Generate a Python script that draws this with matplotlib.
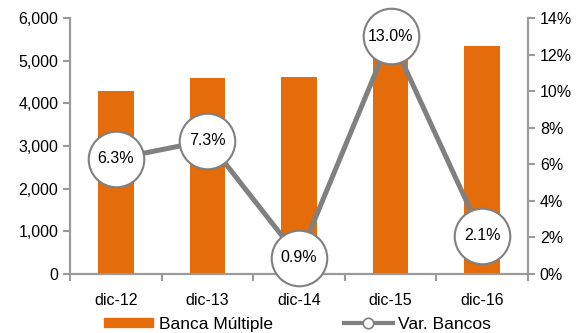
import numpy as np
import matplotlib.pyplot as plt
from matplotlib.lines import Line2D
from matplotlib.patches import Patch

plt.rcParams['font.family'] = ['Liberation Sans', 'DejaVu Sans']

periodos = ['dic-12', 'dic-13', 'dic-14', 'dic-15', 'dic-16']
banca_multiple = [4290, 4590, 4620, 5200, 5340]
var_bancos = [6.3, 7.3, 0.9, 13.0, 2.1]

naranja = '#E46C0A'
gris = '#808080'

fig = plt.figure(figsize=(5.79, 3.33), dpi=100)
ax = fig.add_axes([70/579, 1 - 274/333, 458/579, 256/333])
ax2 = ax.twinx()

x = np.arange(len(periodos))
ax.bar(x, banca_multiple, width=0.39, color=naranja, zorder=2)
ax.set_xlim(-0.5, 4.5)
ax.set_ylim(0, 6000)
ax.set_yticks(np.arange(0, 6001, 1000))
ax.yaxis.set_major_formatter(plt.FuncFormatter(lambda v, p: f'{int(v):,}'))
ax.set_xticks(x)
ax.set_xticklabels(periodos)
ax.set_xticks(np.arange(-0.5, 5, 1), minor=True)
ax.tick_params(axis='x', which='major', length=0, pad=14)
ax.tick_params(axis='x', which='minor', length=5, color='#9a9a9a', width=1.5)
ax.tick_params(axis='y', length=5, color='#9a9a9a', width=1.5, labelsize=11.5)
ax.tick_params(axis='x', labelsize=11.5)

ax2.plot(x, var_bancos, color=gris, lw=3.6, marker='o', ms=40,
         mfc='white', mec=gris, mew=1.5, zorder=3, clip_on=False)
for xi, v in zip(x, var_bancos):
    ax2.text(xi, v, f'{v:.1f}%', ha='center', va='center', fontsize=11.5, zorder=4)
ax2.set_ylim(0, 14)
ax2.set_yticks(np.arange(0, 15, 2))
ax2.set_yticklabels([f'{v}%' for v in range(0, 15, 2)])
ax2.tick_params(axis='y', length=5, color='#9a9a9a', width=1.5, labelsize=11.5)

for a in (ax, ax2):
    a.spines['top'].set_visible(False)
    for s in ('left', 'right', 'bottom'):
        a.spines[s].set_color('#9a9a9a')
        a.spines[s].set_linewidth(1.5)

handles = [Patch(color=naranja, label='Banca Múltiple'),
           Line2D([], [], color=gris, lw=3, marker='o', ms=7.5, mfc='white',
                  mec=gris, mew=1.2, label='Var. Bancos')]
fig.legend(handles=handles, loc='center', bbox_to_anchor=(0.514, 0.026),
           ncol=2, frameon=False, fontsize=12.5, handlelength=2.85,
           handleheight=0.45, columnspacing=4.1, handletextpad=0.3,
           borderpad=0, borderaxespad=0)

fig.savefig('out.png', dpi=100)
